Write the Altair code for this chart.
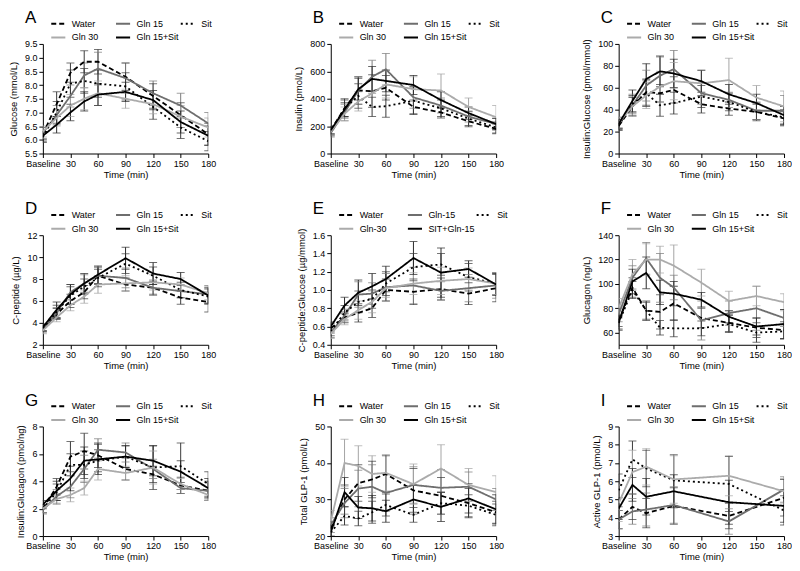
import altair as alt
import pandas as pd

TIMES = [0, 15, 30, 45, 60, 90, 120, 150, 180]
TIMES_I = [0, 15, 30, 60, 120, 180]
X_TICKS = [0, 30, 60, 90, 120, 150, 180]

SERIES = ["Water", "Gln 15", "Sit", "Gln 30", "Gln 15+Sit"]
SERIES_E = ["Water", "Gln-15", "Sit", "Gln-30", "SIT+Gln-15"]

LINE_COLORS = ["#000000", "#6e6e6e", "#000000", "#ababab", "#000000"]
ERR_COLORS = ["#3a3a3a", "#7a7a7a", "#3a3a3a", "#a5a5a5", "#2a2a2a"]
DASHES = [[5, 3], [1, 0], [2, 3], [1, 0], [1, 0]]

# A  Glucose (mmol/L)
GLUCOSE = {
    "Water":      [6.20, 7.30, 8.45, 8.85, 8.85, 8.30, 7.60, 6.90, 6.20],
    "Gln 15":     [6.25, 6.90, 7.60, 8.35, 8.60, 8.25, 7.70, 7.25, 6.60],
    "Sit":        [6.10, 7.00, 8.05, 8.15, 8.05, 7.95, 7.20, 6.45, 5.95],
    "Gln 30":     [6.30, 6.80, 7.25, 7.50, 7.70, 7.50, 7.30, 6.85, 6.45],
    "Gln 15+Sit": [6.15, 6.55, 7.00, 7.40, 7.65, 7.75, 7.45, 6.65, 6.15],
}
GLUCOSE_SE = {
    "Water":      [0.25, 0.45, 0.35, 0.40, 0.45, 0.50, 0.45, 0.45, 0.40],
    "Gln 15":     [0.20, 0.35, 0.40, 0.45, 0.60, 0.55, 0.45, 0.45, 0.40],
    "Sit":        [0.20, 0.40, 0.50, 0.45, 0.50, 0.50, 0.45, 0.40, 0.35],
    "Gln 30":     [0.20, 0.30, 0.40, 0.40, 0.45, 0.35, 0.35, 0.40, 0.35],
    "Gln 15+Sit": [0.15, 0.30, 0.30, 0.35, 0.40, 0.35, 0.35, 0.40, 0.35],
}

# B  Insulin (pmol/L)
INSULIN = {
    "Water":      [170, 330, 460, 455, 480, 340, 300, 235, 180],
    "Gln 15":     [150, 300, 460, 560, 615, 410, 350, 270, 215],
    "Sit":        [160, 330, 420, 340, 345, 385, 330, 255, 190],
    "Gln 30":     [160, 290, 380, 440, 505, 470, 460, 340, 265],
    "Gln 15+Sit": [170, 320, 470, 545, 530, 500, 390, 295, 215],
}
INSULIN_SE = {
    "Water":      [30, 60, 100, 120, 90, 50, 40, 40, 35],
    "Gln 15":     [30, 60, 100, 120, 115, 80, 55, 40, 45],
    "Sit":        [30, 70, 90, 70, 80, 100, 60, 50, 40],
    "Gln 30":     [25, 50, 70, 100, 100, 90, 120, 65, 85],
    "Gln 15+Sit": [25, 50, 80, 90, 80, 70, 60, 45, 40],
}

# C  Insulin:Glucose (pmol/mmol)
INS_GLU = {
    "Water":      [25, 43, 56, 55, 58, 45, 41, 38, 32],
    "Gln 15":     [28, 44, 62, 71, 77, 55, 49, 39, 39],
    "Sit":        [26, 45, 55, 44, 46, 52, 47, 38, 33],
    "Gln 30":     [28, 43, 53, 61, 66, 64, 67, 51, 43],
    "Gln 15+Sit": [27, 48, 68, 75, 73, 66, 54, 46, 35],
}
INS_GLU_SE = {
    "Water":      [4, 8, 12, 8, 12, 8, 6, 7, 6],
    "Gln 15":     [5, 10, 14, 17, 17, 10, 7, 8, 14],
    "Sit":        [4, 8, 12, 10, 10, 10, 8, 8, 7],
    "Gln 30":     [5, 9, 12, 14, 17, 12, 20, 11, 14],
    "Gln 15+Sit": [4, 10, 14, 14, 13, 10, 9, 8, 8],
}

# D  C-peptide (ug/L)
CPEP = {
    "Water":      [3.5, 4.8, 6.0, 6.8, 8.3, 7.5, 7.2, 6.3, 5.9],
    "Gln 15":     [3.4, 4.9, 6.8, 7.6, 8.3, 8.1, 7.2, 6.9, 6.6],
    "Sit":        [3.5, 5.0, 6.5, 7.3, 8.1, 9.4, 8.3, 7.0, 6.4],
    "Gln 30":     [3.3, 4.5, 5.6, 6.4, 7.5, 7.6, 7.7, 7.5, 6.7],
    "Gln 15+Sit": [3.6, 5.2, 6.6, 7.6, 8.4, 9.9, 8.5, 8.0, 6.5],
}
CPEP_SE = {
    "Water":      [0.3, 0.5, 0.6, 0.6, 0.8, 0.6, 0.6, 0.6, 0.9],
    "Gln 15":     [0.3, 0.5, 0.7, 0.8, 0.8, 0.9, 0.7, 0.6, 0.8],
    "Sit":        [0.3, 0.6, 0.8, 0.7, 0.8, 0.9, 0.8, 0.7, 0.7],
    "Gln 30":     [0.3, 0.4, 0.5, 0.6, 0.8, 0.7, 0.7, 0.6, 0.6],
    "Gln 15+Sit": [0.3, 0.7, 0.9, 0.9, 0.8, 1.0, 1.0, 0.6, 0.7],
}

# E  C-peptide:Glucose (ug/mmol)
CPEP_GLU = {
    "Water":      [0.58, 0.70, 0.75, 0.80, 1.00, 0.98, 1.01, 0.96, 1.02],
    "Gln 15":     [0.53, 0.72, 0.95, 0.96, 1.03, 1.05, 0.99, 1.02, 1.05],
    "Sit":        [0.55, 0.75, 0.87, 0.90, 1.07, 1.25, 1.28, 1.14, 1.07],
    "Gln 30":     [0.52, 0.68, 0.78, 0.87, 1.02, 1.07, 1.10, 1.12, 1.07],
    "Gln 15+Sit": [0.60, 0.83, 0.97, 1.04, 1.12, 1.35, 1.19, 1.23, 1.06],
}
CPEP_GLU_SE = {
    "Water":      [0.05, 0.06, 0.10, 0.10, 0.12, 0.14, 0.12, 0.12, 0.15],
    "Gln 15":     [0.05, 0.07, 0.14, 0.12, 0.15, 0.20, 0.10, 0.15, 0.14],
    "Sit":        [0.05, 0.08, 0.12, 0.10, 0.13, 0.15, 0.12, 0.15, 0.12],
    "Gln 30":     [0.05, 0.06, 0.10, 0.12, 0.10, 0.12, 0.15, 0.12, 0.12],
    "Gln 15+Sit": [0.05, 0.09, 0.14, 0.14, 0.14, 0.18, 0.27, 0.09, 0.12],
}

# F  Glucagon (ng/L)
GLUCAGON = {
    "Water":      [70, 97, 78, 77, 84, 72, 68, 64, 62],
    "Gln 15":     [75, 105, 121, 105, 97, 70, 76, 80, 72],
    "Sit":        [68, 95, 78, 64, 63.5, 63.5, 67, 60, 61],
    "Gln 30":     [80, 108, 120, 120, 115, 101, 86, 90, 85],
    "Gln 15+Sit": [68, 102, 109, 93, 92, 87, 73, 65, 67],
}
GLUCAGON_SE = {
    "Water":      [5, 8, 8, 14, 14, 8, 7, 8, 7],
    "Gln 15":     [6, 10, 13, 20, 10, 16, 10, 18, 7],
    "Sit":        [5, 7, 7, 6, 7, 6, 7, 8, 6],
    "Gln 30":     [8, 12, 13, 11, 17, 11, 8, 8, 7],
    "Gln 15+Sit": [6, 10, 13, 10, 10, 6, 5, 7, 12],
}

# G  Insulin:Glucagon (pmol/ng)
INS_GCG = {
    "Water":      [2.0, 3.6, 5.8, 6.2, 5.9, 4.9, 4.5, 3.7, 3.3],
    "Gln 15":     [1.9, 2.9, 3.6, 4.9, 6.3, 6.1, 4.9, 3.5, 3.3],
    "Sit":        [2.0, 3.2, 5.2, 5.2, 5.5, 5.8, 5.0, 5.1, 3.8],
    "Gln 30":     [2.0, 2.7, 3.0, 3.5, 4.9, 4.6, 5.0, 3.8, 3.0],
    "Gln 15+Sit": [2.3, 3.3, 4.2, 5.5, 5.6, 5.8, 5.5, 4.7, 3.5],
}
INS_GCG_SE = {
    "Water":      [0.3, 0.6, 1.1, 1.3, 0.9, 0.8, 0.6, 0.6, 0.7],
    "Gln 15":     [0.3, 0.5, 0.8, 1.0, 0.8, 0.7, 0.7, 0.4, 0.6],
    "Sit":        [0.3, 0.6, 0.8, 1.0, 0.8, 0.8, 1.6, 1.7, 0.9],
    "Gln 30":     [0.3, 0.4, 0.5, 0.5, 0.8, 0.5, 1.2, 0.4, 0.4],
    "Gln 15+Sit": [0.3, 0.7, 0.9, 1.0, 1.1, 0.8, 1.1, 0.8, 0.7],
}

# H  Total GLP-1 (pmol/L)
TOTAL_GLP1 = {
    "Water":      [22.0, 30.0, 34.5, 35.5, 37.0, 32.5, 31.0, 29.0, 26.5],
    "Gln 15":     [23.0, 29.0, 33.0, 33.5, 31.8, 34.0, 33.2, 33.5, 30.0],
    "Sit":        [21.0, 25.5, 24.8, 26.5, 28.5, 25.8, 29.0, 28.3, 25.8],
    "Gln 30":     [24.0, 40.0, 39.2, 37.0, 37.3, 34.2, 38.5, 34.0, 32.0],
    "Gln 15+Sit": [21.0, 32.0, 27.8, 27.6, 26.8, 30.0, 28.0, 30.3, 27.3],
}
TOTAL_GLP1_SE = {
    "Water":      [2.0, 4.0, 5.0, 5.0, 5.0, 6.0, 5.0, 4.0, 3.0],
    "Gln 15":     [2.0, 4.0, 5.0, 6.0, 5.0, 5.0, 5.0, 4.0, 3.0],
    "Sit":        [2.0, 2.5, 2.0, 3.0, 3.0, 2.0, 3.0, 3.0, 3.0],
    "Gln 30":     [3.0, 6.5, 5.5, 5.0, 5.0, 5.5, 6.5, 4.5, 4.5],
    "Gln 15+Sit": [2.0, 4.0, 3.0, 3.5, 3.0, 4.0, 4.0, 4.0, 4.0],
}

# I  Active GLP-1 (pmol/L)
ACTIVE_GLP1 = {
    "Water":      [3.90, 4.60, 4.25, 4.65, 4.10, 5.10],
    "Gln 15":     [3.90, 4.35, 4.45, 4.70, 3.80, 5.55],
    "Sit":        [5.50, 7.20, 6.70, 6.05, 5.85, 4.40],
    "Gln 30":     [4.80, 6.50, 6.80, 6.10, 6.30, 5.45],
    "Gln 15+Sit": [4.50, 5.80, 5.15, 5.45, 4.85, 4.65],
}
ACTIVE_GLP1_SE = {
    "Water":      [0.5, 0.7, 0.8, 1.0, 0.7, 1.0],
    "Gln 15":     [0.5, 0.7, 0.9, 1.0, 0.7, 0.7],
    "Sit":        [0.9, 1.0, 1.0, 1.4, 1.5, 0.8],
    "Gln 30":     [1.0, 1.2, 1.0, 1.3, 1.1, 0.7],
    "Gln 15+Sit": [0.6, 0.9, 1.0, 0.9, 1.2, 0.9],
}

FONT = "Liberation Sans"
PW, PH = 166, 110


def panel(letter, means, errs, labels, times, ytitle, ydomain, yticks, fmt):
    rows = []
    for i, key in enumerate(SERIES):
        for t, m, e in zip(times, means[key], errs[key]):
            rows.append({"series": labels[i], "time": t, "mean": m,
                         "lo": m - e, "hi": m + e})
    df = pd.DataFrame(rows)
    base = alt.Chart(df)

    xenc = alt.X("time:Q",
                 scale=alt.Scale(domain=[0, 180], nice=False, zero=False),
                 axis=alt.Axis(values=X_TICKS, title="Time (min)", labelOverlap=False,
                               labelFlush=False,
                               labelExpr="datum.value == 0 ? 'Baseline' : datum.label"))
    yscale = alt.Scale(domain=ydomain, nice=False, zero=False)
    yaxis = alt.Axis(values=yticks, format=fmt, title=ytitle, labelOverlap=False,
                     labelFlush=False)
    ecolor = alt.Color("series:N", legend=None,
                       scale=alt.Scale(domain=labels, range=ERR_COLORS))

    rule = base.mark_rule(strokeWidth=1, clip=True).encode(
        x=xenc, y=alt.Y("lo:Q", scale=yscale, axis=yaxis), y2="hi:Q", color=ecolor)
    cap_lo = base.mark_tick(orient="horizontal", size=8, thickness=1, clip=True).encode(
        x=xenc, y=alt.Y("lo:Q", scale=yscale, axis=yaxis), color=ecolor)
    cap_hi = base.mark_tick(orient="horizontal", size=8, thickness=1, clip=True).encode(
        x=xenc, y=alt.Y("hi:Q", scale=yscale, axis=yaxis), color=ecolor)

    leg = alt.Legend(title=None, orient="none", legendX=7, legendY=-29,
                     direction="horizontal", columns=3, gridAlign="all",
                     symbolType="stroke", symbolSize=200, symbolStrokeWidth=2,
                     labelFontSize=9, labelFontWeight="normal", labelFont=FONT,
                     columnPadding=-8, rowPadding=0, labelOffset=5, padding=0,
                     labelColor="black")
    lines = base.mark_line(strokeWidth=1.8, clip=True).encode(
        x=xenc,
        y=alt.Y("mean:Q", scale=yscale, axis=yaxis),
        color=alt.Color("series:N", scale=alt.Scale(domain=labels, range=LINE_COLORS), legend=leg),
        strokeDash=alt.StrokeDash("series:N", scale=alt.Scale(domain=labels, range=DASHES), legend=leg),
    )
    return alt.layer(rule, cap_lo, cap_hi, lines).resolve_scale(
        color="independent", strokeDash="independent"
    ).properties(
        width=PW, height=PH,
        title=alt.TitleParams(text=letter, anchor="start", frame="group", fontSize=17,
                              fontWeight="normal", font=FONT, dx=-18, dy=15, offset=-10,
                              baseline="alphabetic", color="black"),
    )


pA = panel("A", GLUCOSE, GLUCOSE_SE, SERIES, TIMES, "Glucose (mmol/L)", [5.5, 9.5],
           [5.5, 6.0, 6.5, 7.0, 7.5, 8.0, 8.5, 9.0, 9.5], ".1f")
pB = panel("B", INSULIN, INSULIN_SE, SERIES, TIMES, "Insulin (pmol/L)", [0, 800],
           [0, 200, 400, 600, 800], "d")
pC = panel("C", INS_GLU, INS_GLU_SE, SERIES, TIMES, "Insulin:Glucose (pmol/mmol)", [0, 100],
           [0, 20, 40, 60, 80, 100], "d")
pD = panel("D", CPEP, CPEP_SE, SERIES, TIMES, "C-peptide (\u00b5g/L)", [2, 12],
           [2, 4, 6, 8, 10, 12], "d")
pE = panel("E", CPEP_GLU, CPEP_GLU_SE, SERIES_E, TIMES, "C-peptide:Glucose (\u00b5g/mmol)", [0.4, 1.6],
           [0.4, 0.6, 0.8, 1.0, 1.2, 1.4, 1.6], ".1f")
pF = panel("F", GLUCAGON, GLUCAGON_SE, SERIES, TIMES, "Glucagon (ng/L)", [50, 140],
           [60, 80, 100, 120, 140], "d")
pG = panel("G", INS_GCG, INS_GCG_SE, SERIES, TIMES, "Insulin:Glucagon (pmol/ng)", [0, 8],
           [0, 2, 4, 6, 8], "d")
pH = panel("H", TOTAL_GLP1, TOTAL_GLP1_SE, SERIES, TIMES, "Total GLP-1 (pmol/L)", [20, 50],
           [20, 30, 40, 50], "d")
pI = panel("I", ACTIVE_GLP1, ACTIVE_GLP1_SE, SERIES, TIMES_I, "Active GLP-1 (pmol/L)", [3, 9],
           [3, 4, 5, 6, 7, 8, 9], "d")

chart = alt.concat(pA, pB, pC, pD, pE, pF, pG, pH, pI, columns=3,
                   spacing={"row": 82, "column": 123}, bounds="flush").resolve_scale(
    color="independent", strokeDash="independent"
).resolve_legend(color="independent", strokeDash="independent").properties(
    padding={"left": 0, "top": 0, "right": 0, "bottom": 0}
).configure_view(stroke=None).configure_axis(
    labelFont=FONT, titleFont=FONT, labelFontSize=9, titleFontSize=9.5,
    titleFontWeight="normal", labelColor="black", titleColor="black",
    domainColor="black", tickColor="black", domainWidth=1, tickWidth=1,
    tickSize=4, labelPadding=2, titlePadding=5, grid=False,
).configure_axisY(titlePadding=6).configure_axisX(titlePadding=1)

chart.save("out.html", embed_options={"renderer": "svg", "actions": False})
